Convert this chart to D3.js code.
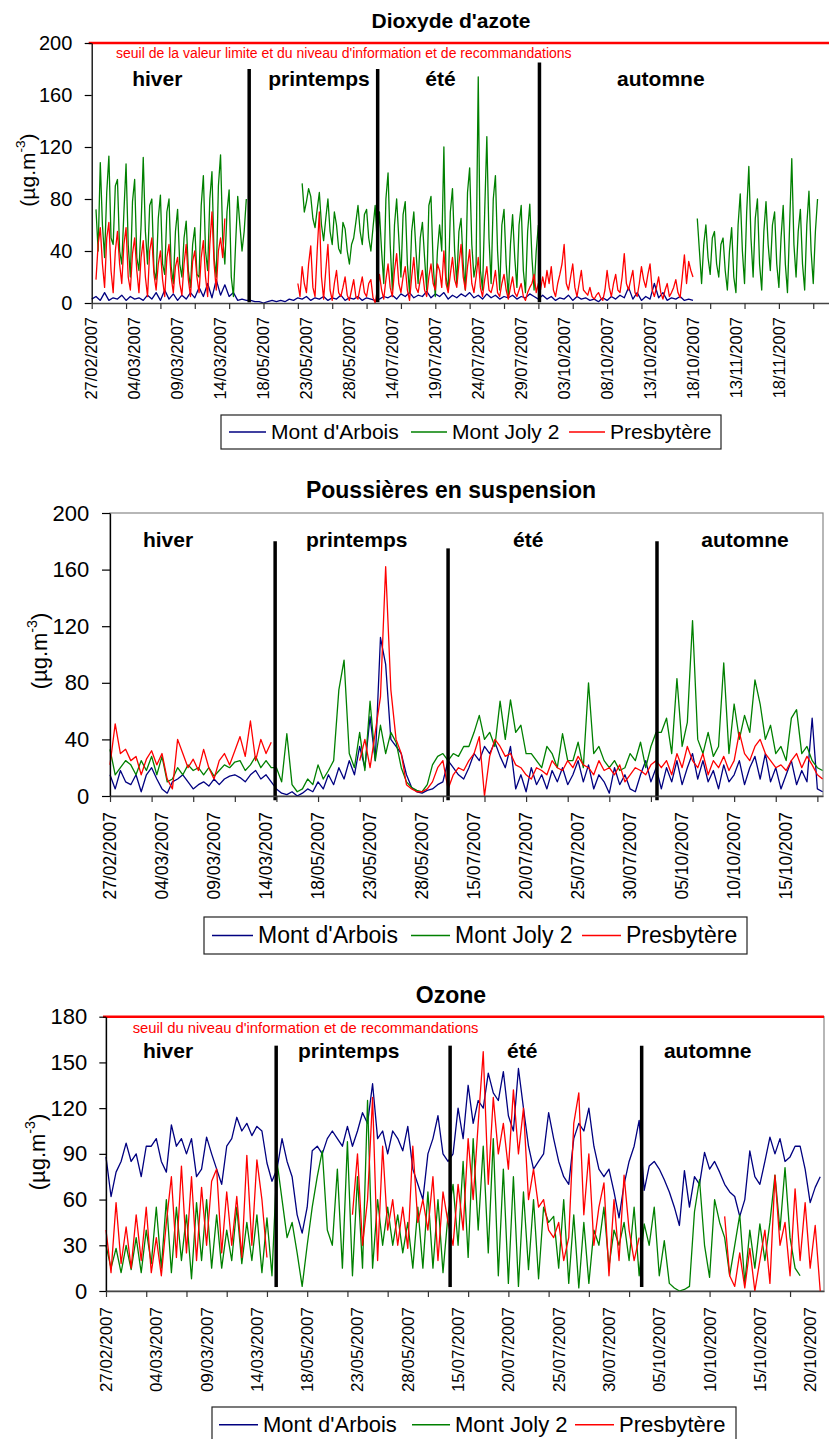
<!DOCTYPE html>
<html>
<head>
<meta charset="utf-8">
<script src="https://cdn.jsdelivr.net/npm/d3@7"></script>
<style>
  body { margin: 0; background: #fff; }
  svg { display: block; font-family: "Liberation Sans", Arial, sans-serif; }
</style>
</head>
<body>
<svg id="chart" width="829" height="1439"></svg>
<script>
// A series is a list of runs: [first hour, hours between values, values]; gaps between runs are missing data.
const stations = ["Mont d'Arbois", "Mont Joly 2", "Presbytère"];
const stationColors = ["#000080", "#008000", "#ff0000"];
const seasonNames = ["hiver", "printemps", "été", "automne"];

// ---------- Dioxyde d'azote ----------
const no2Labels = ["27/02/2007", "04/03/2007", "09/03/2007", "14/03/2007", "18/05/2007", "23/05/2007",
  "28/05/2007", "14/07/2007", "19/07/2007", "24/07/2007", "29/07/2007", "03/10/2007", "08/10/2007",
  "13/10/2007", "18/10/2007", "13/11/2007", "18/11/2007"];
const no2Ticks = [0, 40, 80, 120, 160, 200];
const no2Arbois = [
  [0, 12, [3,5,2,8,2,4,3,6,2,5,3,4,2,6,3,8,2,10,3,7,2,6,3,8,4,12,5,15,4,18,6,14,5,8,2,3,2,
           2,1,1,0,1,2,1,2,1,3,2,4,3,5,2,4,3,5,2,4,3,6,2,4,3,5,2,4,3,2,
           3,5,4,6,3,7,5,8,4,6,5,9,4,7,5,8,3,6,4,7,5,8,4,6,3,7,4,6,3,5,4,6,3,5,4,7,5,3,
           6,3,5,2,4,3,6,2,5,3,4,2,3,1,4,2,5,3,6,4,12,3,8,2,5,3,15,4,8,2,4,3,5,2,3,2]]
];
const no2Joly = [
  [12, 6, [72,40,108,60,35,85,113,50,45,90,95,40,30,70,107,45,20,78,95,35,25,60,112,55,30,75,80,25,18,65,
           83,30,22,70,80,28,15,55,72,30,20,50,63,25,12,45,58,22,20,75,98,40,25,80,101,35,20,90,114,50,
           30,70,87,20,5,45,82,60,40,55,80]],
  [588, 6, [92,70,78,88,82,65,58,72,85,60,48,65,80,55,45,70,60,42,38,62,57,40,30,45,50,62,75,55,45,68,
            72,50,40,58,75,45,
            70,40,15,80,100,45,10,60,80,50,20,68,78,30,8,55,70,40,15,50,62,35,10,75,82,30,5,40,60,40,
            120,20,10,70,88,40,15,55,65,30,10,85,104,45,20,30,174,25,10,70,128,50,15,80,98,40,10,60,72,30,
            5,45,68,35,12,60,75,25,8,55,76,35,10,40,60]],
  [1692, 6, [65,40,15,45,60,35,22,50,55,30,20,45,50,25,10,40,58,20,8,60,84,40,15,70,105,50,20,65,80,30,
             10,55,78,45,25,60,70,30,12,50,75,30,8,60,111,45,20,55,72,30,10,60,86,40,15,55,80]]
];
const no2Presb = [
  [12, 6, [18,45,58,30,12,50,62,25,8,40,55,30,15,45,58,20,10,38,50,25,8,35,48,20,5,40,50,22,10,30,
           40,18,5,35,45,20,8,28,35,15,6,30,45,18,5,32,40,20,8,35,48,20,5,45,70,30,10,40,50,35,65]],
  [576, 6, [15,5,28,15,8,30,44,12,5,40,70,20,3,25,45,10,2,15,25,8,5,12,20,6,2,10,18,5,3,12,
            20,8,5,15,18,4,0,10,
            22,10,3,18,30,12,5,25,38,15,8,20,28,10,2,20,35,12,8,18,25,10,5,20,30,15,10,30,25,12,
            40,15,8,22,35,18,12,30,45,20,10,28,41,15,8,20,35,12,5,18,28,10,8,15,25,8,5,15,22,10,
            3,12,20,8,5,10,15,5,2,8,12,15,22,8,15,10,
            20,12,25,15,28,10,5,15,22,30,45,15,10,20,30,12,5,15,25,10,8,6,12,5,3,6,8,4,2,10,
            25,12,5,15,22,10,8,20,38,15,10,18,25,8,5,15,28,18,12,22,30,10,5,12,20,8,3,10,15,5,
            8,12,18,8,4,20,37,15,32,25,20]]
];

// ---------- Poussières en suspension ----------
const pmLabels = ["27/02/2007", "04/03/2007", "09/03/2007", "14/03/2007", "18/05/2007", "23/05/2007",
  "28/05/2007", "15/07/2007", "20/07/2007", "25/07/2007", "30/07/2007", "05/10/2007", "10/10/2007", "15/10/2007"];
const pmTicks = [0, 40, 80, 120, 160, 200];
const pmArbois = [
  [0, 12, [15,5,18,10,8,15,3,15,20,12,5,2,10,12,15,10,5,8,10,7,12,8,12,14,15,13,10,15,18,12,15,10,
           5,2,1,3,0,2,5,3,10,5,15,8,20,12,25,15,35,20,56,25,112,93,40,35,30,15,6,3,2,4,5,8,10,
           25,20,15,12,20,30,25,35,30,38,28,20,35,5,15,3,20,8,15,5,18,10,20,8,15,25,10,22,5,15,10,2,20,8,15,5,3,15,25,10,20,
           5,20,10,25,8,20,30,12,25,10,18,5,22,10,15,25,8,20,28,12,30,10,20,5,15,25,8,18,10,55,5,3]]
];
const pmJoly = [
  [0, 12, [33,15,20,25,22,15,25,18,28,15,28,10,12,20,15,22,18,20,15,20,14,18,22,20,24,25,18,22,28,20,25,20,
           20,10,44,8,3,5,12,8,22,12,18,25,75,96,30,20,45,18,67,25,50,30,45,38,20,10,6,4,3,8,22,28,30,
           25,30,28,35,35,45,57,40,45,35,67,40,68,45,50,30,30,25,20,35,30,20,44,25,25,38,20,80,30,35,25,20,25,18,20,30,25,38,20,35,45,
           45,55,30,83,35,52,124,40,30,45,28,35,94,30,65,40,57,45,82,65,40,50,30,35,25,55,61,30,35,25,20,18]]
];
const pmPresb = [
  [0, 12, [22,51,30,33,25,28,15,26,32,22,30,12,5,40,30,20,26,18,33,20,12,25,30,22,32,42,28,53,25,40,30,38]],
  [576, 12, [25,40,20,45,70,162,75,40,30,8,5,3,3,5,10,20,25,
             5,15,20,18,25,30,42,0,28,40,35,28,30,22,20,15,12,20,18,15,25,20,18,25,20,28,22,20,15,25,18,20,15,22,10,15,20,18,15,22,25,
             20,25,15,30,20,35,25,20,30,15,25,20,28,18,25,45,30,25,35,40,30,25,20,22,18,25,30,20,28,22,15,12]]
];

// ---------- Ozone ----------
const o3Labels = pmLabels.concat(["20/10/2007"]);
const o3Ticks = [0, 30, 60, 90, 120, 150, 180];
const o3Arbois = [
  [0, 12, [88,62,78,85,97,85,90,75,95,95,100,85,78,109,95,100,90,100,75,80,101,90,80,70,95,100,114,105,110,102,108,105,84,72,
           80,100,85,75,50,38,55,92,95,90,100,105,100,95,108,95,105,117,110,136,100,105,90,105,100,92,108,80,70,60,90,100,115,90,85,
           90,120,100,135,110,125,120,143,130,125,144,115,105,146,120,95,80,85,90,117,100,85,75,70,100,110,105,120,95,80,75,80,65,48,70,85,95,112,
           66,82,85,80,73,65,55,43,79,55,75,70,91,80,85,78,70,65,62,49,60,92,75,70,85,101,90,100,85,88,95,95,80,58,68,75]]
];
const o3Joly = [
  [0, 12, [30,15,28,12,30,14,35,12,40,18,55,15,60,12,55,20,50,8,58,20,60,15,50,15,40,20,55,18,45,20,50,12,48,10,
           85,60,35,45,25,3,30,55,75,92,40,30,80,15,98,10,75,15,125,15,60,30,55,30,50,25,45,15,55,15,65,15,60,12,50,
           70,30,85,22,100,40,95,25,100,10,80,5,75,3,65,14,60,8,55,45,49,15,60,5,50,2,45,5,40,30,55,16,40,30,45,20,55,10,
           44,30,55,10,33,5,2,0,1,3,52,73,30,9,60,45,35,10,30,50,5,40,15,44,20,45,76,40,81,35,15,10]]
];
const o3Presb = [
  [0, 12, [40,12,58,18,42,15,50,20,55,12,35,10,45,75,22,82,25,75,20,68,30,72,80,25,65,30,62,22,89,30,86,60,22]],
  [588, 12, [50,90,30,60,127,20,95,40,60,30,55,28,95,45,60,40,75,20,65,45,
             30,70,40,100,60,110,157,70,127,90,110,80,132,90,120,60,80,55,60,40,35,45,20,35,110,130,50,90,30,55,71,10,60,20,76,40,20,35]],
  [1476, 12, [49,10,3,25,2,28,0,20,40,5,76,30,45,10,67,20,58,15,43,0]]
];

// ---------- layout ----------
const panels = [
  {
    title: "Dioxyde d'azote", titleSize: 21, titleY: 28,
    left: 91.7, right: 829, top: 43, bottom: 303, hours: 2060, yMax: 200,
    yTicks: no2Ticks, yFont: 20, yTickLen: 7, yPad: 12.4,
    labels: no2Labels, xFont: 16.5, labelGap: 14,
    series: [no2Arbois, no2Joly, no2Presb],
    dividers: [[440, 180], [799, 180], [1251, 185]], divBottom: 0.5,
    seasonAt: [113, 493, 932, 1468], seasonY: 86,
    threshold: { value: 200, text: "seuil de la valeur limite et du niveau d'information et de recommandations", x: 116, y: 58, size: 14 },
    border: false,
    unit: { x: 27.5, y: 170, size: 21 },
    legend: { x0: 221, x1: 721, y0: 415, y1: 449, base: 439, size: 21, lines: [229, 411, 569], texts: [271, 452, 610] }
  },
  {
    title: "Poussières en suspension", titleSize: 23, titleY: 498,
    left: 110, right: 823, top: 513, bottom: 796, hours: 1645, yMax: 200,
    yTicks: pmTicks, yFont: 22, yTickLen: 8, yPad: 12.7,
    labels: pmLabels, xFont: 17.5, labelGap: 16,
    series: [pmArbois, pmJoly, pmPresb],
    dividers: [[381, 180], [780, 175], [1262, 180]], divBottom: -3,
    seasonAt: [76, 452, 930, 1364], seasonY: 547,
    threshold: null,
    border: true,
    unit: { x: 40, y: 651, size: 22 },
    legend: { x0: 204, x1: 747, y0: 917, y1: 954, base: 943, size: 23, lines: [212, 411, 582], texts: [258, 455, 626] }
  },
  {
    title: "Ozone", titleSize: 23, titleY: 1003,
    left: 106, right: 824, top: 1016.7, bottom: 1291, hours: 1713, yMax: 180,
    yTicks: o3Ticks, yFont: 22, yTickLen: 6.7, yPad: 12,
    labels: o3Labels, xFont: 17, labelGap: 16,
    series: [o3Arbois, o3Joly, o3Presb],
    dividers: [[406, 161], [821, 161], [1278, 161]], divBottom: 2.6,
    seasonAt: [88, 458, 957, 1331], seasonY: 1058,
    threshold: { value: 180, text: "seuil du niveau d'information et de recommandations", x: 132.7, y: 1033, size: 14.8 },
    border: true,
    unit: { x: 38, y: 1152, size: 22 },
    legend: { x0: 212, x1: 736, y0: 1407, y1: 1446, base: 1432, size: 22, lines: [219, 412, 575], texts: [263, 455, 619] }
  }
];

const svg = d3.select("#chart");
svg.append("rect").attr("width", 829).attr("height", 1439).attr("fill", "#fff");

function drawPanel(p) {
  const g = svg.append("g");
  const x = d3.scaleLinear().domain([0, p.hours]).range([p.left, p.right]);
  const y = d3.scaleLinear().domain([0, p.yMax]).range([p.bottom, p.top]);

  // title
  g.append("text")
    .attr("x", 451).attr("y", p.titleY)
    .attr("text-anchor", "middle")
    .attr("font-weight", "bold")
    .attr("font-size", p.titleSize)
    .text(p.title);

  if (p.border) {
    g.append("rect")
      .attr("x", p.left).attr("y", p.top)
      .attr("width", p.right - p.left).attr("height", p.bottom - p.top)
      .attr("fill", "none").attr("stroke", "#888").attr("stroke-width", 1.2);
  }

  // series: blue first, red last (drawn on top)
  const line = d3.line().x(d => x(d[0])).y(d => y(d[1]));
  p.series.forEach((runs, k) => {
    runs.forEach(([start, step, vals]) => {
      const pts = vals.map((v, j) => [start + j * step, v]);
      g.append("path")
        .datum(pts)
        .attr("fill", "none")
        .attr("stroke", stationColors[k])
        .attr("stroke-width", 1.3)
        .attr("stroke-linejoin", "round")
        .attr("d", line);
    });
  });

  // season dividers
  g.selectAll("line.divider")
    .data(p.dividers)
    .join("line")
    .attr("class", "divider")
    .attr("x1", d => x(d[0])).attr("x2", d => x(d[0]))
    .attr("y1", d => y(d[1])).attr("y2", y(p.divBottom))
    .attr("stroke", "#000").attr("stroke-width", 3.5);

  // season names
  g.selectAll("text.season")
    .data(seasonNames)
    .join("text")
    .attr("class", "season")
    .attr("x", (d, i) => x(p.seasonAt[i]))
    .attr("y", p.seasonY)
    .attr("font-weight", "bold")
    .attr("font-size", 21)
    .text(d => d);

  // threshold
  if (p.threshold) {
    g.append("line")
      .attr("x1", p.left - 3).attr("x2", p.right)
      .attr("y1", y(p.threshold.value)).attr("y2", y(p.threshold.value))
      .attr("stroke", "#ff0000").attr("stroke-width", 2.6);
    g.append("text")
      .attr("x", p.threshold.x).attr("y", p.threshold.y)
      .attr("fill", "#ff0000")
      .attr("font-size", p.threshold.size)
      .text(p.threshold.text);
  }

  // y axis
  const yAxis = g.append("g")
    .attr("transform", `translate(${p.left},0)`)
    .call(d3.axisLeft(y).tickValues(p.yTicks).tickSize(p.yTickLen).tickSizeOuter(0).tickPadding(p.yPad));
  yAxis.select(".domain").attr("stroke", "#000").attr("stroke-width", 1.3);
  yAxis.selectAll(".tick line").attr("stroke", "#000").attr("stroke-width", 1.2);
  yAxis.selectAll(".tick text")
    .attr("font-size", p.yFont)
    .attr("font-family", "'Liberation Sans', Arial, sans-serif")
    .attr("fill", "#000");

  // x axis: a tick every 96 h, a date label every 120 h
  const xAxis = g.append("g")
    .attr("transform", `translate(0,${p.bottom})`)
    .call(d3.axisBottom(x).tickValues(d3.range(0, p.hours, 96)).tickSize(6).tickSizeOuter(0).tickFormat(""));
  xAxis.select(".domain").attr("stroke", "#444").attr("stroke-width", 1.5);
  xAxis.selectAll(".tick line").attr("stroke", "#333").attr("stroke-width", 1.2);

  g.selectAll("text.xlabel")
    .data(p.labels)
    .join("text")
    .attr("class", "xlabel")
    .attr("transform", (d, i) => `translate(${x(i * 120)},${p.bottom + p.labelGap}) rotate(-90)`)
    .attr("text-anchor", "end")
    .attr("dy", "0.35em")
    .attr("font-size", p.xFont)
    .text(d => d);

  // unit label
  const u = g.append("text")
    .attr("transform", `translate(${p.unit.x + 7},${p.unit.y}) rotate(-90)`)
    .attr("text-anchor", "middle")
    .attr("font-size", p.unit.size);
  u.append("tspan").text("(µg.m");
  u.append("tspan").attr("font-size", p.unit.size * 0.65).attr("dy", -p.unit.size * 0.45).text("-3");
  u.append("tspan").attr("dy", p.unit.size * 0.45).text(")");

  // legend
  const L = p.legend;
  g.append("rect")
    .attr("x", L.x0).attr("y", L.y0)
    .attr("width", L.x1 - L.x0).attr("height", L.y1 - L.y0)
    .attr("fill", "#fff").attr("stroke", "#222").attr("stroke-width", 1.2);
  const mid = L.base - L.size * 0.33;
  stations.forEach((name, k) => {
    g.append("line")
      .attr("x1", L.lines[k]).attr("x2", L.texts[k] - 5)
      .attr("y1", mid).attr("y2", mid)
      .attr("stroke", stationColors[k]).attr("stroke-width", 1.5);
    g.append("text")
      .attr("x", L.texts[k]).attr("y", L.base)
      .attr("font-size", L.size)
      .text(name);
  });
}

panels.forEach(drawPanel);
</script>
</body>
</html>
